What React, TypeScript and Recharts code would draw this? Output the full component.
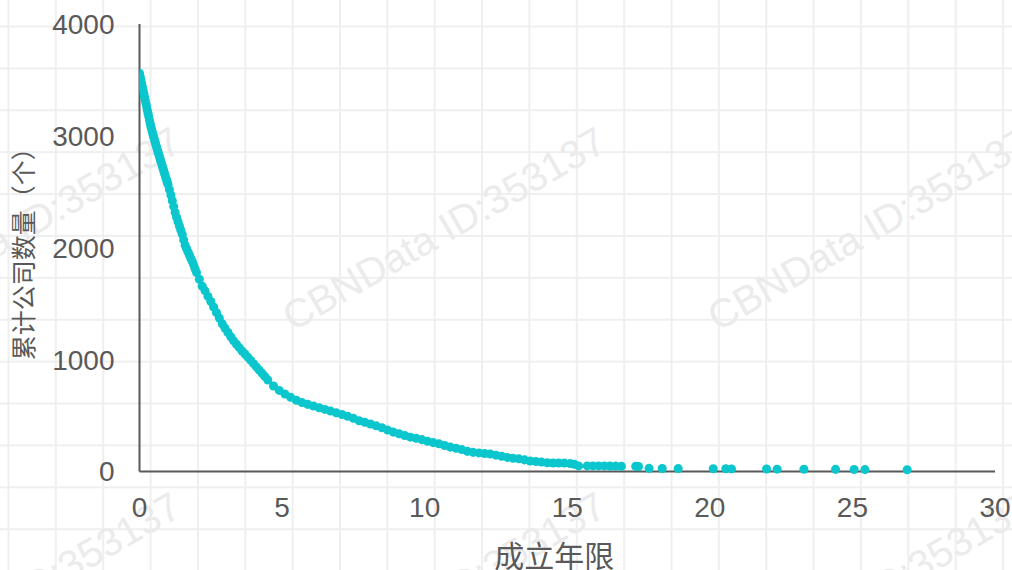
import React from "react";
import { ScatterChart, Scatter, XAxis, YAxis, ZAxis } from "recharts";

// 成立年限 (years since founding) vs cumulative company count
const years = [
  0, 0.025, 0.05, 0.075, 0.1, 0.125, 0.15, 0.175, 0.2, 0.225,
  0.25, 0.275, 0.3, 0.325, 0.35, 0.375, 0.4, 0.425, 0.45, 0.475,
  0.5, 0.525, 0.55, 0.575, 0.6, 0.625, 0.65, 0.675, 0.7, 0.725,
  0.75, 0.775, 0.8, 0.825, 0.85, 0.875, 0.9, 0.925, 0.95, 0.975,
  1, 1.05, 1.1, 1.15, 1.2, 1.25, 1.3, 1.35, 1.4, 1.45,
  1.5, 1.55, 1.6, 1.65, 1.7, 1.75, 1.8, 1.85, 1.9, 1.95,
  2, 2.1, 2.2, 2.3, 2.4, 2.5, 2.6, 2.7, 2.8, 2.9,
  3, 3.1, 3.2, 3.3, 3.4, 3.5, 3.6, 3.7, 3.8, 3.9,
  4, 4.1, 4.2, 4.3, 4.4, 4.5, 4.7, 4.9, 5.1, 5.3,
  5.5, 5.7, 5.9, 6.1, 6.3, 6.5, 6.7, 6.9, 7.1, 7.3,
  7.5, 7.7, 7.9, 8.1, 8.3, 8.5, 8.7, 8.9, 9.1, 9.3,
  9.5, 9.7, 9.9, 10.1, 10.3, 10.5, 10.7, 10.9, 11.1, 11.3,
  11.5, 11.7, 11.9, 12.1, 12.3, 12.5, 12.7, 12.9, 13.1, 13.3,
  13.5, 13.7, 13.9, 14.1, 14.3, 14.5, 14.7, 14.9, 15.1, 15.25,
  15.4, 15.7, 15.9, 16.1, 16.3, 16.5, 16.7, 16.9, 17.4, 17.5,
  17.87, 18.33, 18.89, 20.12, 20.56, 20.76, 21.99, 22.36, 23.3, 24.41, 25.06, 25.44, 26.92,
];

const counts = [
  3560, 3530, 3500, 3470, 3440, 3410, 3380, 3350, 3320, 3290,
  3260, 3230, 3200, 3170, 3140, 3110, 3082, 3058, 3034, 3010,
  2987, 2965, 2943, 2921, 2899, 2877, 2856, 2835, 2814, 2793,
  2772, 2751, 2730, 2709, 2688, 2667, 2646, 2625, 2605, 2585,
  2565, 2520, 2472, 2420, 2368, 2315, 2272, 2232, 2195, 2157,
  2120, 2070, 2022, 1992, 1962, 1935, 1905, 1878, 1845, 1810,
  1778, 1718, 1656, 1615, 1565, 1520, 1470, 1420, 1371, 1321,
  1280, 1243, 1205, 1168, 1137, 1107, 1076, 1050, 1022, 993,
  964, 935, 906, 877, 848, 818, 764, 725, 693, 663,
  637, 616, 600, 585, 570, 555, 540, 524, 509, 493,
  475, 454, 440, 424, 408, 391, 370, 352, 338, 322,
  307, 297, 285, 270, 258, 248, 233, 218, 208, 196,
  180, 171, 166, 161, 156, 146, 136, 126, 118, 113,
  104, 94, 89, 84, 78, 76, 76, 75, 72, 64,
  50, 50, 50, 50, 50, 48, 48, 47, 46, 45,
  28, 27, 26, 25, 24, 23, 22, 21, 20, 19, 18, 17, 16,
];

const xTicks = [0, 5, 10, 15, 20, 25, 30];
const yTicks = [0, 1000, 2000, 3000, 4000];

const watermark = "CBNData ID:353137";
const markCols = [-132, 293, 718];
const markRows = [332, 697];

const data = years.map((x, i) => ({ x, y: counts[i] }));

const FONT = "'Liberation Sans', Arial, 'Noto Sans CJK SC', sans-serif";
const GREY = "#595959";

export default function App() {
  return (
    <div
      style={{
        position: "absolute",
        left: 0,
        top: 0,
        width: 1012,
        height: 570,
        overflow: "hidden",
        backgroundColor: "#fff",
        backgroundImage:
          "linear-gradient(to right, #efefef 1.5px, transparent 1.5px), linear-gradient(to bottom, #efefef 1.5px, transparent 1.5px)",
        backgroundSize: "47.37px 41.9px",
        backgroundPosition: "7.5px 25.5px",
        fontFamily: FONT,
      }}
    >
      <svg width={1012} height={570} style={{ position: "absolute", left: 0, top: 0 }}>
        {markRows.map((y) =>
          markCols.map((x) => (
            <text
              key={`${x}-${y}`}
              x={x}
              y={y}
              fontSize={40}
              fill="#ebebeb"
              fontFamily={FONT}
              transform={`rotate(-30 ${x} ${y})`}
            >
              {watermark}
            </text>
          ))
        )}
      </svg>
      <div style={{ position: "absolute", left: 0, top: 0 }}>
        <ScatterChart
          width={1012}
          height={570}
          margin={{ top: 24, right: 17, left: 0, bottom: 0 }}
        >
          <XAxis
            type="number"
            dataKey="x"
            domain={[0, 30]}
            ticks={xTicks}
            height={98.5}
            axisLine={{ stroke: GREY, strokeWidth: 2 }}
            tickLine={false}
            tickSize={0}
            tickMargin={26}
            tick={{ fill: GREY, fontSize: 28, fontFamily: FONT }}
            interval={0}
            allowDataOverflow
            label={{
              value: "成立年限",
              position: "insideTop",
              offset: 74,
              dx: -13,
              fill: GREY,
              fontSize: 30,
              fontFamily: FONT,
            }}
          />
          <YAxis
            type="number"
            dataKey="y"
            domain={[0, 4000]}
            ticks={yTicks}
            width={139.5}
            axisLine={{ stroke: GREY, strokeWidth: 2 }}
            tickLine={false}
            tickSize={0}
            tickMargin={25}
            tick={{ fill: GREY, fontSize: 28, fontFamily: FONT }}
            interval={0}
            label={{
              value: "累计公司数量（个）",
              angle: -90,
              position: "insideLeft",
              offset: 24,
              fill: GREY,
              fontSize: 25,
              fontFamily: FONT,
              style: { textAnchor: "middle" },
            }}
          />
          <ZAxis range={[34, 34]} />
          <Scatter data={data} fill="#0bc6cd" isAnimationActive={false} />
        </ScatterChart>
      </div>
    </div>
  );
}
